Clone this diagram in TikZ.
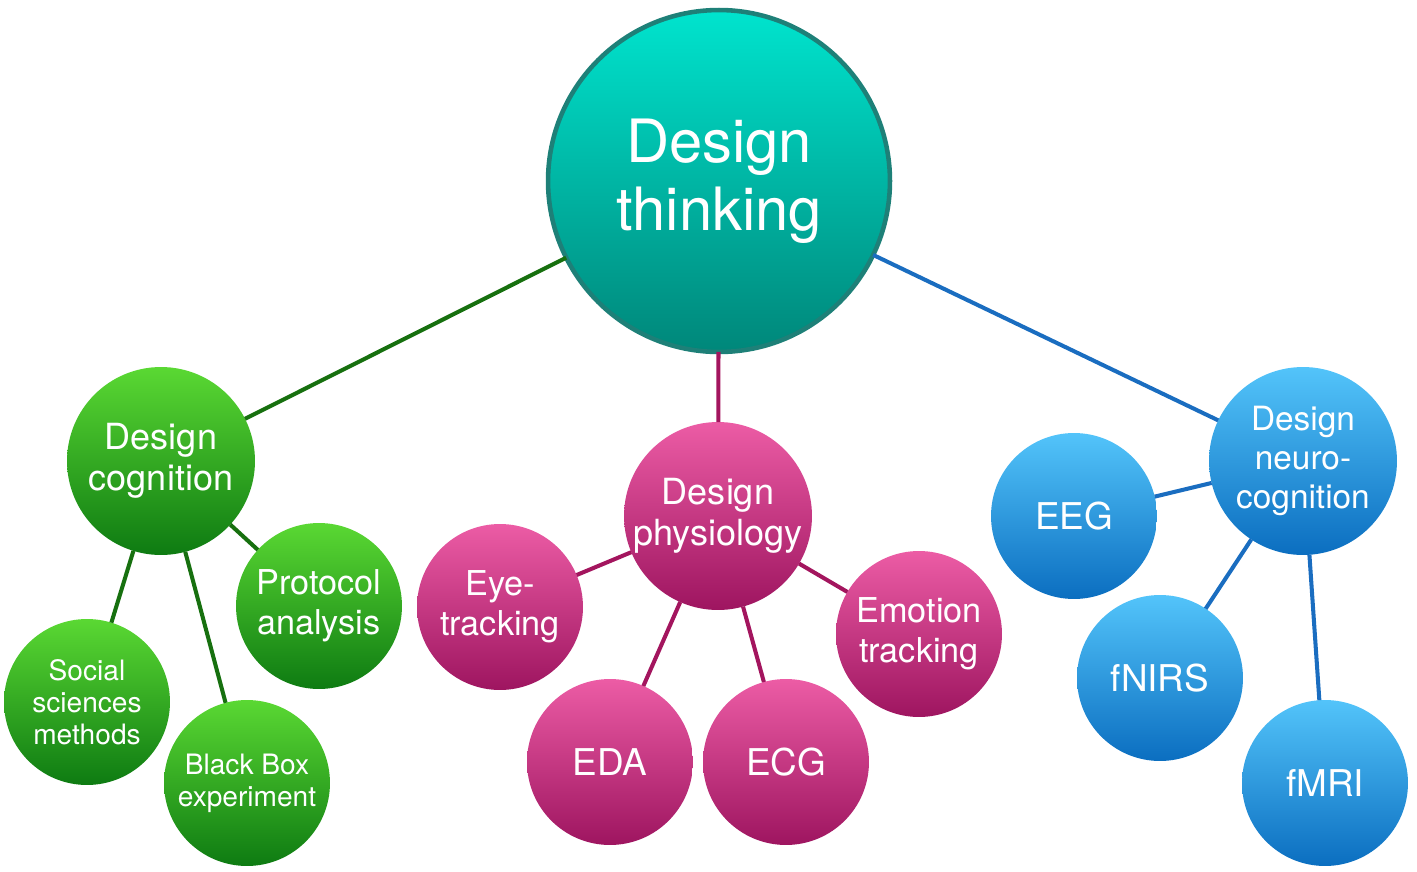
\documentclass[tikz,border=0pt]{standalone}
\usepackage{fontspec}
\setmainfont{TeX Gyre Heros}

\definecolor{tealtop}{HTML}{00E4CE}
\definecolor{tealbot}{HTML}{00877A}
\definecolor{tealrim}{HTML}{1E8078}
\definecolor{cogtop}{HTML}{5AD833}
\definecolor{cogbot}{HTML}{0E7B12}
\definecolor{cogline}{HTML}{17700F}
\definecolor{phytop}{HTML}{EC5CA5}
\definecolor{phybot}{HTML}{9E1560}
\definecolor{phyline}{HTML}{A3155E}
\definecolor{neutop}{HTML}{53C4FA}
\definecolor{neubot}{HTML}{0B6EC0}
\definecolor{neuline}{HTML}{1A6DC0}

\begin{document}
\begin{tikzpicture}[
    x=0.02cm, y=-0.02cm,
    bubble/.style={circle, inner sep=0, outer sep=0, align=center, text=white},
    hub/.style={bubble, minimum size=3.76cm, font=\fontsize{20.5}{23.5}\selectfont},
    leaf/.style={bubble, minimum size=3.32cm, font=\fontsize{19.5}{22.7}\selectfont},
    cog/.style={top color=cogtop, bottom color=cogbot},
    phy/.style={top color=phytop, bottom color=phybot},
    neu/.style={top color=neutop, bottom color=neubot},
    link/.style={line width=2.3pt}
]

% ============================================
% MARCO
% ============================================
\useasboundingbox (0,0) rectangle (1417,872);

% ============================================
% NODO CENTRAL
% ============================================
\node[bubble, minimum size=6.84cm, top color=tealtop, bottom color=tealbot,
      draw=tealrim, line width=2.6pt, font=\fontsize{34}{39}\selectfont]
      (think) at (719,181) {Design\\thinking};

% ============================================
% DESIGN COGNITION (verde)
% ============================================
\node[hub, cog] (cogn) at (161,461) {Design\\cognition};
\node[leaf, cog] (proto) at (319,606) {Protocol\\analysis};
\node[leaf, cog, font=\fontsize{16}{18.3}\selectfont] (social) at (87,702) {Social\\sciences\\methods};
\node[leaf, cog, font=\fontsize{16}{18.3}\selectfont] (blackbox) at (247,783) {Black Box\\experiment};

% ============================================
% DESIGN PHYSIOLOGY (magenta)
% ============================================
\node[hub, phy] (phys) at (718,516) {Design\\physiology};
\node[leaf, phy] (eye) at (500,607) {Eye-\\tracking};
\node[leaf, phy] (emotion) at (919,634) {Emotion\\tracking};
\node[leaf, phy, font=\fontsize{21}{24}\selectfont] (eda) at (610,762) {EDA};
\node[leaf, phy, font=\fontsize{21}{24}\selectfont] (ecg) at (786,762) {ECG};

% ============================================
% DESIGN NEURO-COGNITION (azul)
% ============================================
\node[hub, neu, font=\fontsize{19}{22}\selectfont] (neuro) at (1303,461) {Design\\neuro-\\cognition};
\node[leaf, neu, font=\fontsize{21}{24}\selectfont] (eeg) at (1074,516) {EEG};
\node[leaf, neu, font=\fontsize{21}{24}\selectfont] (fnirs) at (1160,678) {fNIRS};
\node[leaf, neu, font=\fontsize{21}{24}\selectfont] (fmri) at (1325,783) {fMRI};

% ============================================
% CONEXIONES
% ============================================
\draw[link, cogline] (think) -- (cogn);
\draw[link, cogline] (cogn) -- (proto);
\draw[link, cogline] (cogn) -- (social);
\draw[link, cogline] (cogn) -- (blackbox);

\draw[link, phyline] (think) -- (phys);
\draw[link, phyline] (phys) -- (eye);
\draw[link, phyline] (phys) -- (emotion);
\draw[link, phyline] (phys) -- (eda);
\draw[link, phyline] (phys) -- (ecg);

\draw[link, neuline] (think) -- (neuro);
\draw[link, neuline] (neuro) -- (eeg);
\draw[link, neuline] (neuro) -- (fnirs);
\draw[link, neuline] (neuro) -- (fmri);

\end{tikzpicture}
\end{document}
